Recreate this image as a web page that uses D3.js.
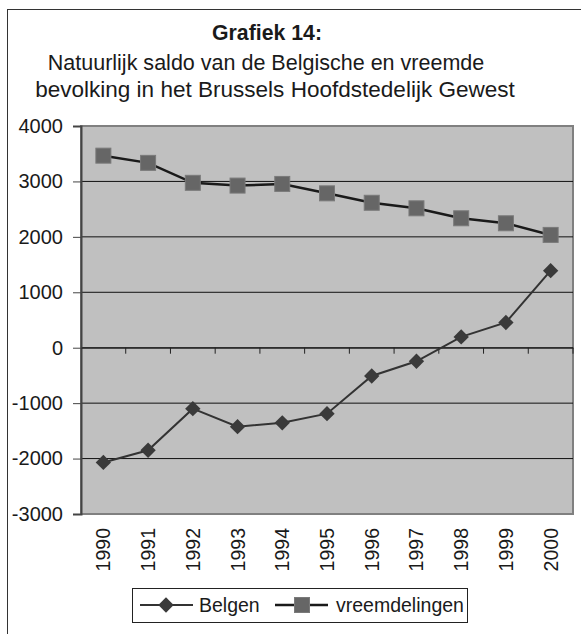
<!DOCTYPE html>
<html>
<head>
<meta charset="utf-8">
<script src="https://cdn.jsdelivr.net/npm/d3@7"></script>
<style>
  body { margin: 0; background: #fff; }
  text { font-family: "Liberation Sans", Arial, sans-serif; fill: #1a1a1a; }
</style>
</head>
<body>
<svg id="canvas" width="581" height="634"></svg>
<script>
let years = ["1990","1991","1992","1993","1994","1995","1996","1997","1998","1999","2000"]
let belgen = [-2070, -1850, -1100, -1425, -1355, -1190, -510, -245, 195, 455, 1390]
let vreemdelingen = [3465, 3335, 2975, 2925, 2955, 2785, 2615, 2515, 2335, 2245, 2035]
let yTicks = [-3000, -2000, -1000, 0, 1000, 2000, 3000, 4000]
let titleLines = ["Grafiek 14:", "Natuurlijk saldo van de Belgische en vreemde", "bevolking in het Brussels Hoofdstedelijk Gewest"]

let svg = d3.select("#canvas")

// outer frame
svg.append("rect")
    .attr("x", 7.5).attr("y", 9.5)
    .attr("width", 600).attr("height", 640)
    .attr("fill", "none")
    .attr("stroke", "#333")
    .attr("stroke-width", 1)

// title, each line stretched to the width seen in the picture
let titleSpec = [
    {cx: 267, y: 40, w: 110, bold: true},
    {cx: 266, y: 70, w: 437, bold: false},
    {cx: 275, y: 97, w: 480, bold: false}
]
titleLines.forEach((t, i) => {
    let s = titleSpec[i]
    let node = svg.append("text")
        .attr("text-anchor", "middle")
        .attr("x", s.cx).attr("y", s.y)
        .style("font-weight", s.bold ? "bold" : "normal")
        .style("font-size", "20px")
        .text(t)
    let len = node.node().getComputedTextLength()
    node.style("font-size", (20 * s.w / len) + "px")
})

let plotLeft = 81, plotRight = 573, plotTop = 126, plotBottom = 514

let x = d3.scaleBand().domain(years).range([plotLeft, plotRight])
let y = d3.scaleLinear().domain([-3000, 4000]).range([plotBottom, plotTop])

// plot area
svg.append("rect")
    .attr("x", plotLeft).attr("y", plotTop)
    .attr("width", plotRight - plotLeft).attr("height", plotBottom - plotTop)
    .attr("fill", "#c0c0c0")
    .attr("stroke", "#808080")
    .attr("stroke-width", 2)

// gridlines
svg.selectAll(".grid")
    .data(yTicks.filter(d => d > -3000 && d < 4000))
    .enter()
    .append("line")
    .attr("class", "grid")
    .attr("x1", plotLeft).attr("x2", plotRight)
    .attr("y1", d => y(d)).attr("y2", d => y(d))
    .attr("stroke", "#111")
    .attr("stroke-width", 1)

// y axis
let yAxis = svg.append("g")
    .attr("transform", "translate(" + plotLeft + ",0)")
    .call(d3.axisLeft(y).tickValues(yTicks).tickSize(8).tickPadding(10).tickFormat(d => String(d)))
yAxis.select(".domain").attr("stroke", "#444").attr("stroke-width", 2)
yAxis.selectAll(".tick line").attr("stroke", "#444")
yAxis.selectAll("text")
    .style("font-size", "20px")
    .style("font-family", "'Liberation Sans', Arial, sans-serif")
    .attr("fill", "#1a1a1a")

// category axis at zero
let xAxis = svg.append("g")
    .attr("transform", "translate(0," + y(0) + ")")
    .call(d3.axisBottom(x).tickValues([]).tickSizeOuter(0))
xAxis.select(".domain").attr("stroke", "#222").attr("stroke-width", 1)
svg.selectAll(".xtick")
    .data(years)
    .enter()
    .append("line")
    .attr("class", "xtick")
    .attr("x1", d => x(d) + x.bandwidth())
    .attr("x2", d => x(d) + x.bandwidth())
    .attr("y1", y(0)).attr("y2", y(0) + 6)
    .attr("stroke", "#222")

// rotated year labels
svg.selectAll(".xlabel")
    .data(years)
    .enter()
    .append("text")
    .attr("class", "xlabel")
    .attr("text-anchor", "end")
    .attr("transform", d => "translate(" + (x(d) + x.bandwidth() / 2 + 7) + "," + (plotBottom + 14) + ") rotate(-90)")
    .style("font-size", "19.5px")
    .text(d => d)

let line = d3.line()
    .x((d, i) => x(years[i]) + x.bandwidth() / 2)
    .y(d => y(d))

// vreemdelingen
svg.append("path")
    .datum(vreemdelingen)
    .attr("d", line)
    .attr("fill", "none")
    .attr("stroke", "#1a1a1a")
    .attr("stroke-width", 2.5)
svg.selectAll(".sq")
    .data(vreemdelingen)
    .enter()
    .append("rect")
    .attr("class", "sq")
    .attr("x", (d, i) => x(years[i]) + x.bandwidth() / 2 - 7.5)
    .attr("y", d => y(d) - 7.5)
    .attr("width", 15).attr("height", 15)
    .attr("fill", "#666")
    .attr("stroke", "#7a7a7a")

// belgen
svg.append("path")
    .datum(belgen)
    .attr("d", line)
    .attr("fill", "none")
    .attr("stroke", "#333")
    .attr("stroke-width", 2)
let diamond = d3.symbol().type(d3.symbolDiamond2).size(150)
svg.selectAll(".dm")
    .data(belgen)
    .enter()
    .append("path")
    .attr("class", "dm")
    .attr("d", diamond)
    .attr("transform", (d, i) => "translate(" + (x(years[i]) + x.bandwidth() / 2) + "," + y(d) + ")")
    .attr("fill", "#3a3a3a")

// legend
svg.append("rect")
    .attr("x", 132.5).attr("y", 588.5)
    .attr("width", 335).attr("height", 34)
    .attr("fill", "#fff")
    .attr("stroke", "#222")
let legend = svg.append("g")
legend.append("line")
    .attr("x1", 140).attr("x2", 193).attr("y1", 605).attr("y2", 605)
    .attr("stroke", "#333").attr("stroke-width", 2)
legend.append("path")
    .attr("d", diamond)
    .attr("transform", "translate(166,605)")
    .attr("fill", "#3a3a3a")
legend.append("line")
    .attr("x1", 275).attr("x2", 328).attr("y1", 605).attr("y2", 605)
    .attr("stroke", "#1a1a1a").attr("stroke-width", 2.5)
legend.append("rect")
    .attr("x", 294.5).attr("y", 597.5).attr("width", 15).attr("height", 15)
    .attr("fill", "#666").attr("stroke", "#7a7a7a")
legend.append("text").attr("x", 199).attr("y", 612)
    .style("font-size", "19.5px").text("Belgen")
legend.append("text").attr("x", 336).attr("y", 612)
    .style("font-size", "19.5px").text("vreemdelingen")
</script>
</body>
</html>
